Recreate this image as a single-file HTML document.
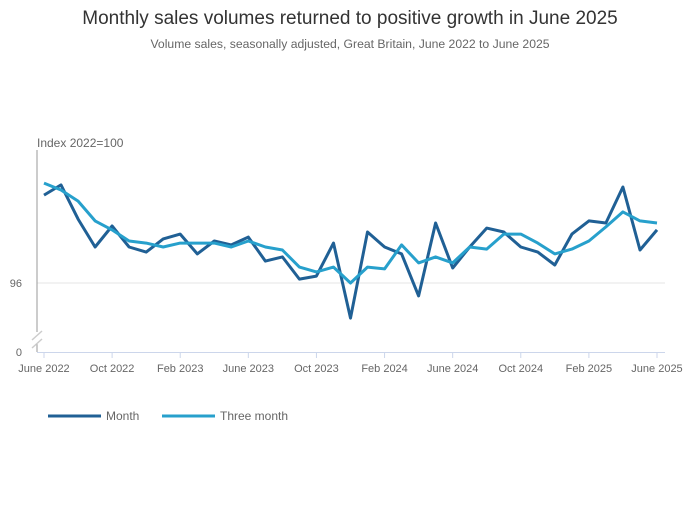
<!DOCTYPE html>
<html><head><meta charset="utf-8"><style>
body{margin:0;background:#fff;font-family:"Liberation Sans",sans-serif}
svg text{font-family:"Liberation Sans",sans-serif}
</style></head><body>
<svg width="700" height="502" viewBox="0 0 700 502">
<text x="350" y="24" text-anchor="middle" font-size="19" fill="#333">Monthly sales volumes returned to positive growth in June 2025</text>
<text x="350" y="48" text-anchor="middle" font-size="12.2" fill="#666">Volume sales, seasonally adjusted, Great Britain, June 2022 to June 2025</text>
<text x="37" y="147" font-size="12" fill="#666">Index 2022=100</text>
<line x1="37" y1="283" x2="665" y2="283" stroke="#e6e6e6"/>
<text x="22" y="287" text-anchor="end" font-size="11" fill="#666">96</text>
<text x="22" y="356" text-anchor="end" font-size="11" fill="#666">0</text>
<g>
<line x1="37" y1="150" x2="37" y2="332" stroke="#999"/>
<line x1="37" y1="343" x2="37" y2="352" stroke="#999"/>
<line x1="32" y1="340" x2="42" y2="331" stroke="#ccc" stroke-width="1.5"/>
<line x1="32" y1="348" x2="42" y2="339" stroke="#ccc" stroke-width="1.5"/>
</g>
<line x1="37" y1="352.5" x2="665" y2="352.5" stroke="#ccd6eb"/>
<g id="xticks"></g>
<g id="series"></g>
<g>
<g>
<line x1="48" y1="416" x2="101" y2="416" stroke="#206095" stroke-width="3"/>
<text x="106" y="420" font-size="12" fill="#666">Month</text></g>
<g>
<line x1="162" y1="416" x2="215" y2="416" stroke="#27a0cc" stroke-width="3"/>
<text x="220" y="420" font-size="12" fill="#666">Three month</text></g>
</g>
</svg>
<script>
const tickLabels=["June 2022","Oct 2022","Feb 2023","June 2023","Oct 2023","Feb 2024","June 2024","Oct 2024","Feb 2025","June 2025"];
const monthValues=[98.93,99.27,98.13,97.2,97.9,97.2,97.03,97.47,97.63,96.97,97.4,97.27,97.53,96.73,96.87,96.13,96.23,97.33,94.83,97.7,97.2,96.97,95.57,98.0,96.5,97.2,97.83,97.7,97.2,97.03,96.6,97.63,98.07,98.0,99.2,97.1,97.77];
const threeMonthValues=[99.33,99.1,98.73,98.07,97.77,97.4,97.33,97.2,97.33,97.33,97.33,97.2,97.4,97.2,97.1,96.53,96.37,96.53,96.0,96.53,96.47,97.27,96.67,96.87,96.67,97.2,97.13,97.63,97.63,97.33,96.97,97.13,97.4,97.87,98.37,98.07,98.0];
const NS="http://www.w3.org/2000/svg";
const x=i=>44+i*(657-44)/36;
const y=v=>283-(v-96)*30;
const xt=document.getElementById('xticks');
tickLabels.forEach((t,k)=>{
 const l=document.createElementNS(NS,'line');
 
 
 l.setAttribute('x1',x(k*4));l.setAttribute('x2',x(k*4));l.setAttribute('y1',352);l.setAttribute('y2',358);l.setAttribute('stroke','#ccd6eb');
 xt.appendChild(l);
 const tx=document.createElementNS(NS,'text');
 
 
 tx.setAttribute('x',x(k*4));tx.setAttribute('y',372);tx.setAttribute('text-anchor','middle');tx.setAttribute('font-size','11');tx.setAttribute('fill','#666');
 tx.textContent=t;xt.appendChild(tx);
});
const sg=document.getElementById('series');
function draw(vals,color,name){
 const p=document.createElementNS(NS,'path');
 
 
 p.setAttribute('d',vals.map((v,i)=>(i?'L':'M')+x(i).toFixed(1)+','+y(v).toFixed(1)).join(''));
 p.setAttribute('fill','none');p.setAttribute('stroke',color);p.setAttribute('stroke-width','3');p.setAttribute('stroke-linejoin','round');
 sg.appendChild(p);
}
draw(monthValues,'#206095','month-line');
draw(threeMonthValues,'#27a0cc','three-month-line');
</script>
</body></html>
